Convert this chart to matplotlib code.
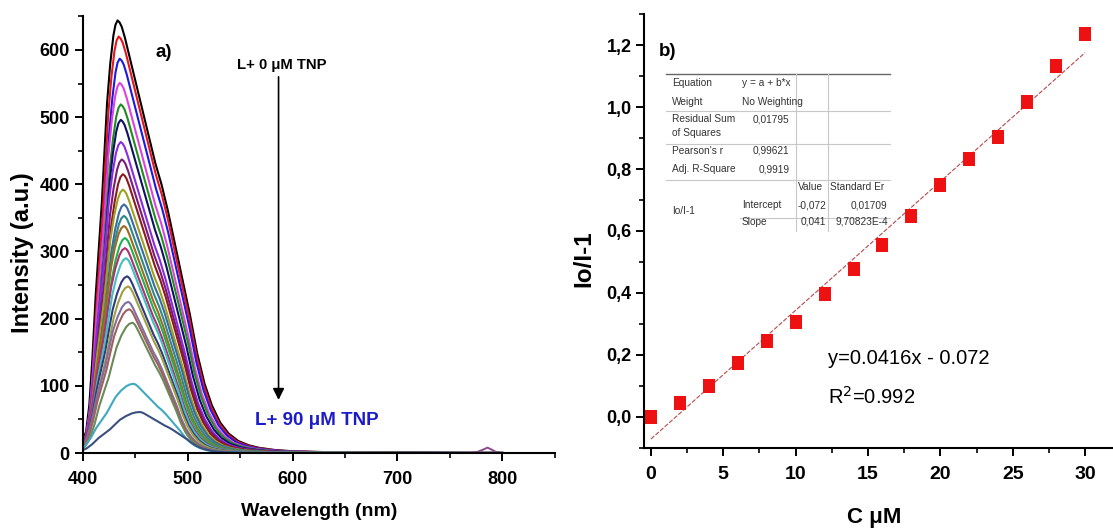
import numpy as np
import matplotlib
matplotlib.use("Agg")
import matplotlib.pyplot as plt
from matplotlib.lines import Line2D
from matplotlib.ticker import MultipleLocator, FuncFormatter

plt.rcParams["font.family"] = ["Liberation Sans", "DejaVu Sans"]

# ---- panel a) emission spectra (read from the picture) ----
# shape of the top spectrum: offset from its peak (nm) -> normalised intensity
profile_offset = [-42, -37, -33, -30, -27, -24, -21, -18, -15, -12, -10, -7, -4, -2, 0,
                  2, 4, 7, 10, 15, 20, 25, 30, 36, 42, 48, 55, 62, 69, 76, 83, 90, 98, 106,
                  115, 125, 135, 150, 167, 200, 250, 300, 367]
profile_value = [0.0, 0.012, 0.03, 0.05, 0.11, 0.22, 0.36, 0.47, 0.58, 0.72, 0.81, 0.90,
                 0.965, 0.99, 1.0, 0.995, 0.985, 0.96, 0.93, 0.88, 0.83, 0.78, 0.73, 0.67,
                 0.62, 0.56, 0.48, 0.40, 0.32, 0.23, 0.16, 0.11, 0.07, 0.045, 0.028, 0.018,
                 0.012, 0.007, 0.004, 0.002, 0.001, 0.0005, 0.0]
profile_left_hw = 16   # half-height widths of that top spectrum (nm)
profile_right_hw = 54

peak_intensity = [644, 620, 587, 551, 519, 496, 463, 437, 415, 392, 370, 353, 338, 320,
                  305, 290, 263, 248, 225, 214, 194, 103, 61]
peak_wavelength = [433, 434, 435, 435, 436, 436, 436, 437, 438, 438, 439, 439, 439, 440,
                   440, 441, 442, 443, 443, 444, 447, 448, 454]
left_halfwidth = [16, 16, 16, 17, 17, 17, 18, 18, 18, 19, 19, 19, 20, 20, 21, 21, 22, 22,
                  23, 23, 24, 27, 30]
right_halfwidth = [54, 53, 52, 51, 50, 49, 48, 47, 46, 45, 44, 43, 42, 41, 40, 39, 38, 37,
                   36, 35, 33, 35, 36]
curve_colors = ["#000000", "#e8141c", "#1a1ae0", "#e040e0", "#1e8c1e", "#101060", "#8a2be2",
                "#7a1a7a", "#8b1a1a", "#a0a020", "#3a6aa0", "#2a8a8a", "#a06a20", "#20b050",
                "#b03070", "#40c0c0", "#303a80", "#a0a040", "#8070a0", "#a06060", "#6a8a5a",
                "#40a8c0", "#3a5080"]

bump_wl = [768, 776, 781, 786, 790, 794, 800]
bump_int = [0, 1.5, 4.5, 8, 5, 1.5, 0]

# ---- panel b) Stern-Volmer plot ----
conc = [0, 2, 4, 6, 8, 10, 12, 14, 16, 18, 20, 22, 24, 26, 28, 30]
ratio = [0.0, 0.045, 0.10, 0.173, 0.245, 0.306, 0.396, 0.476, 0.554, 0.648, 0.750,
         0.832, 0.905, 1.017, 1.133, 1.235]
intercept = -0.072
slope = 0.0416

W, H = 1113, 531
fig = plt.figure(figsize=(W / 100, H / 100), dpi=100)


def fx(px):
    return px / W


def fy(py):
    return 1 - py / H


def bold_ticks(ax, size):
    for lab in ax.get_xticklabels() + ax.get_yticklabels():
        lab.set_fontweight("bold")
        lab.set_fontsize(size)


# ---------- left panel ----------
ax1 = fig.add_axes([fx(83), fy(453), (555 - 83) / W, (453 - 15.7) / H])
off = np.array(profile_offset, dtype=float)
val = np.array(profile_value)
for pk, wl, lhw, rhw, col in zip(peak_intensity, peak_wavelength, left_halfwidth,
                                 right_halfwidth, curve_colors):
    scale = np.where(off < 0, lhw / profile_left_hw, rhw / profile_right_hw)
    xs = wl + off * scale
    ys = val * pk
    y400 = np.interp(400, xs, ys)
    keep = (xs > 400) & (xs <= 800)
    xs = np.concatenate([[400], xs[keep], [800]])
    ys = np.concatenate([[y400], ys[keep], [0]])
    ax1.plot(xs, ys, color=col, lw=1.5)
ax1.plot(bump_wl, bump_int, color="#8a4a8a", lw=1.4)

ax1.set_xlim(400, 850.4)
ax1.set_ylim(0, 651)
ax1.xaxis.set_major_locator(MultipleLocator(100))
ax1.xaxis.set_minor_locator(MultipleLocator(50))
ax1.yaxis.set_major_locator(MultipleLocator(100))
ax1.yaxis.set_minor_locator(MultipleLocator(50))
for s in ["top", "right"]:
    ax1.spines[s].set_visible(False)
for s in ["left", "bottom"]:
    ax1.spines[s].set_linewidth(1.5)
ax1.tick_params(which="major", direction="out", length=6, width=1.4)
ax1.tick_params(which="minor", direction="out", length=3.5, width=1.2)
ax1.tick_params(axis="x", which="major", pad=7)
ax1.tick_params(axis="y", which="major", pad=3.5)
bold_ticks(ax1, 13)
ax1.set_xlabel("Wavelength (nm)", fontsize=14, fontweight="bold")
ax1.xaxis.set_label_coords(0.5, -0.114)
ax1.set_ylabel("Intensity (a.u.)", fontsize=17, fontweight="bold")
ax1.yaxis.set_label_coords(-0.103, 0.457)

ax1.text(477, 596, "a)", fontsize=13.5, fontweight="bold", ha="center", va="center")
ax1.text(590, 578, "L+ 0 \u03bcM TNP", fontsize=10.7, fontweight="bold", ha="center", va="center")
ax1.annotate("", xy=(586.6, 79), xytext=(586.6, 560),
             arrowprops=dict(arrowstyle="-|>", color="black", lw=1.2,
                             mutation_scale=17, shrinkA=0, shrinkB=0))
ax1.text(564.5, 49, "L+ 90 \u03bcM TNP", fontsize=13.5, fontweight="bold", color="#1c1cc8",
         ha="left", va="center")

# ---------- right panel ----------
ax2 = fig.add_axes([fx(644.3), fy(447.7), (W - 644.3) / W, (447.7 - 14.3) / H])
fit_x = np.array([conc[0], conc[-1]])
ax2.plot(fit_x, intercept + slope * fit_x, color="#b84848", lw=0.8, ls=(0, (4, 1.5)))
rect = [(-0.43, -0.5), (0.43, -0.5), (0.43, 0.5), (-0.43, 0.5), (-0.43, -0.5)]
ax2.plot(conc, ratio, ls="none", marker=rect, ms=9.8, color="#ee1111", mec="#ee1111", mew=0)

ax2.set_xlim(-0.46, 31.93)
ax2.set_ylim(-0.1, 1.3)
ax2.xaxis.set_major_locator(MultipleLocator(5))
ax2.xaxis.set_minor_locator(MultipleLocator(2.5))
ax2.yaxis.set_major_locator(MultipleLocator(0.2))
ax2.yaxis.set_minor_locator(MultipleLocator(0.1))
ax2.yaxis.set_major_formatter(FuncFormatter(lambda v, p: f"{v:.1f}".replace(".", ",")))
for s in ["top", "right"]:
    ax2.spines[s].set_visible(False)
for s in ["left", "bottom"]:
    ax2.spines[s].set_linewidth(1.5)
ax2.tick_params(which="major", direction="out", length=6, width=1.4)
ax2.tick_params(which="minor", direction="out", length=3.5, width=1.2)
ax2.tick_params(axis="x", which="major", pad=7)
ax2.tick_params(axis="y", which="major", pad=3)
bold_ticks(ax2, 13)
for lab in ax2.get_xticklabels():
    lab.set_fontsize(14)
ax2.set_xlabel("C \u03bcM", fontsize=16, fontweight="bold")
ax2.xaxis.set_label_coords(0.49, -0.136)
ax2.set_ylabel("Io/I-1", fontsize=17.5, fontweight="bold")
ax2.yaxis.set_label_coords(-0.104, 0.437)

ax2.text(0.54, 1.18, "b)", fontsize=13.5, fontweight="bold", ha="left", va="center")
ax2.text(12.23, 0.188, "y=0.0416x - 0.072", fontsize=14.5, ha="left", va="center")
ax2.text(12.23, 0.065, "R$^2$=0.992", fontsize=14.5, ha="left", va="center")

# ---------- fit result table ----------
tcol = "#333333"
grid = "#c8c8c8"
t_left, t_right = 666, 890
fig.add_artist(Line2D([fx(t_left), fx(t_right)], [fy(74), fy(74)], color="#666666", lw=1.0))
for yy in [110.7, 144, 180]:
    fig.add_artist(Line2D([fx(t_left), fx(t_right)], [fy(yy), fy(yy)], color=grid, lw=0.8))
fig.add_artist(Line2D([fx(740), fx(t_right)], [fy(218.3), fy(218.3)], color=grid, lw=0.8))
for xx in [796, 827.7]:
    fig.add_artist(Line2D([fx(xx), fx(xx)], [fy(74), fy(231)], color=grid, lw=0.8))

cells = [
    (671.7, 83.3, "Equation", "left"), (741.7, 83.3, "y = a + b*x", "left"),
    (671.7, 102, "Weight", "left"), (741.7, 102, "No Weighting", "left"),
    (671.7, 119.3, "Residual Sum", "left"), (789.3, 119.3, "0,01795", "right"),
    (671.7, 133.3, "of Squares", "left"),
    (671.7, 150.5, "Pearson's r", "left"), (789.3, 150.5, "0,99621", "right"),
    (671.7, 169.3, "Adj. R-Square", "left"), (789.3, 169.3, "0,9919", "right"),
    (797.5, 186.7, "Value", "left"), (829.8, 186.7, "Standard Er", "left"),
    (671.7, 211, "Io/I-1", "left"), (741.7, 205, "Intercept", "left"),
    (826.2, 205, "-0,072", "right"), (887.7, 205, "0,01709", "right"),
    (741.7, 222, "Slope", "left"), (826.2, 222, "0,041", "right"),
    (887.7, 222, "9,70823E-4", "right"),
]
for x, y, txt, ha in cells:
    fig.text(fx(x), fy(y), txt, fontsize=7.3, color=tcol, ha=ha, va="center")

fig.savefig("out.png", dpi=100)
